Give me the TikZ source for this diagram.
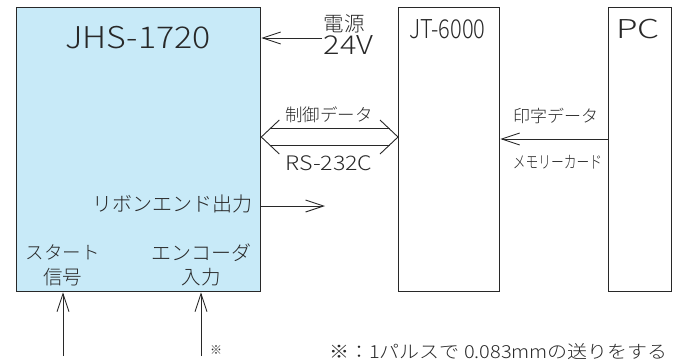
\documentclass[tikz,border=0pt]{standalone}
\usepackage{fontspec}
\setmainfont{Noto Sans CJK JP}[UprightFont={* Light}]
\usetikzlibrary{arrows.meta,calc}
\definecolor{jhsblue}{RGB}{200,234,248}
\definecolor{ink}{RGB}{40,40,40}
\newcommand\myfs[1]{\fontsize{#1}{#1}\selectfont}
\begin{document}
\begin{tikzpicture}[x=1pt,y=-1pt,
  box/.style={draw=ink, line width=1.3pt, inner sep=0pt, anchor=north west},
  lbl/.style={inner sep=0pt, font=\myfs{#1}, text height={0.88*#1pt}, text depth={0.12*#1pt}, text=ink},
  conn/.style={draw=ink, line width=0.9pt},
  arr/.style={conn, -{Straight Barb[length=18pt,width=12pt,line width=0.9pt]}},
  chev/.style={conn, line join=miter}]
\useasboundingbox (0,0) rectangle (680,360);
% boxes
\node[box, fill=jhsblue, minimum width=244pt, minimum height=284pt] (jhs) at (16,7) {};
\node[box, minimum width=101pt, minimum height=284pt] (jt) at (398,7) {};
\node[box, minimum width=63pt, minimum height=284pt] (pc) at (608,7) {};
% titles (latin caps centre sits ~0.05em below box centre)
\node[lbl=30] (tjhs) at (138,37.5) {\scalebox{1.13}[1]{JHS-1720}};
\node[lbl=26] (tjt) at (447.5,28.7) {\scalebox{0.84}[1]{JT-6000}};
\node[lbl=26] (tpc) at (638,28.7) {\scalebox{1.35}[1]{PC}};
% power
\node[lbl=20.5] (dengen) at (344,23.5) {電源};
\node[lbl=26] (v24) at (348.5,45) {\scalebox{1.18}[1]{24V}};
\coordinate (pwr) at (322,38);
\draw[arr] (pwr) -- (jhs.east |- pwr);
% control data double arrow
\node[lbl=17.5] (seigyo) at (329,115) {制御データ};
\node[lbl=20] (rs) at (329,162.5) {\scalebox{1.16}[1]{RS-232C}};
\coordinate (lt) at (jhs.east |- 0,137);
\coordinate (rt) at (jt.west |- 0,137);
\draw[chev] ($(lt)+(18,-17)$) -- (lt) -- ($(lt)+(18,17)$);
\draw[chev] ($(rt)+(-18,-17)$) -- (rt) -- ($(rt)+(-18,17)$);
\draw[conn] ($(lt)+(8.5,-8.5)$) -- ($(rt)+(-8.5,-8.5)$);
\draw[conn] ($(lt)+(8.5,8.5)$) -- ($(rt)+(-8.5,8.5)$);
% print data
\node[lbl=17] (inji) at (555.5,116.5) {印字データ};
\node[lbl=17] (mem) at (557.5,162.5) {\scalebox{0.75}[1]{メモリーカード}};
\draw[arr] (pc.west |- 0,139) -- (jt.east |- 0,139);
% ribbon end
\node[lbl=20] (ribbon) at (172.5,204) {リボンエンド出力};
\coordinate (rib) at (325,206);
\draw[arr] (jhs.east |- rib) -- (rib);
% inputs
\node[lbl=18.5] (start) at (62.5,252.5) {スタート};
\node[lbl=19.5] (shingo) at (62.5,277.5) {信号};
\node[lbl=20] (enc) at (201,252.5) {エンコーダ};
\node[lbl=19.5] (nyu) at (201,277.5) {入力};
\coordinate (in1) at (63,356);
\coordinate (in2) at (201,356);
\draw[arr] (in1) -- (in1 |- jhs.south);
\draw[arr] (in2) -- (in2 |- jhs.south);
\node[lbl=12] (mark) at (216,350) {※};
% footnote
\node[lbl=18] (note) at (498.5,351.5) {\scalebox{1.11}[1]{※：1パルスで 0.083mmの送りをする}};
\end{tikzpicture}
\end{document}
